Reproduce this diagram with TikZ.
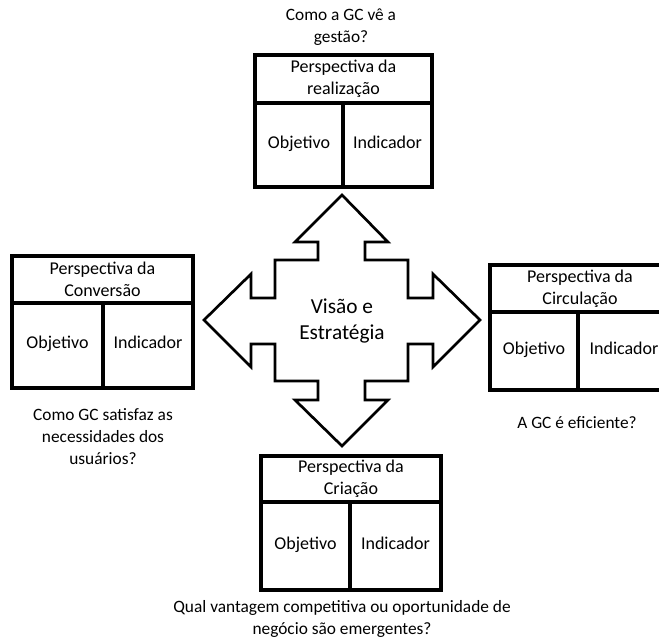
\documentclass[tikz,border=0pt]{standalone}
\usepackage{fontspec}
\setmainfont{Carlito}
\usetikzlibrary{fit}
\newcommand\perspbox[8]{% #1 name, #2 x0, #3 y0, #4 x1, #5 yh, #6 y1, #7 xd, #8 header
  \node[cell, fit={(#2,#3)(#4,#5)}] (#1h) {};
  \node[cell, fit={(#2,#5)(#7,#6)}] (#1o) {};
  \node[cell, fit={(#7,#5)(#4,#6)}] (#1i) {};
  \node[celltext] (#1ht) at (#1h.center) {#8};
  \node[celltext, wordtext] (#1ot) at (#1o.center) {Objetivo};
  \node[celltext, wordtext] (#1it) at (#1i.center) {Indicador};
}
\begin{document}
\begin{tikzpicture}[x=0.75pt,y=-0.75pt,
  cell/.style={draw, line width=2.4pt, inner sep=0pt},
  celltext/.style={align=center, inner sep=0pt, font=\fontsize{13.5}{16.5}\selectfont},
  wordtext/.style={text height=0.7em, text depth=0.25em},
  qtext/.style={align=center, inner sep=0pt, font=\fontsize{13}{16.5}\selectfont},
  ctext/.style={align=center, inner sep=0pt, font=\fontsize{16}{20}\selectfont},
  bigarrow/.style={draw, line width=2pt, line join=miter}]
\useasboundingbox (0,0) rectangle (659,643);
\clip (0,0) rectangle (659,643);

% central four-way arrow
\draw[bigarrow] (342,195) -- (388,242) -- (365,242) -- (365,260) -- (408,260) -- (408,298)
  -- (433,298) -- (433,274) -- (480,320) -- (433,367) -- (433,344) -- (408,344)
  -- (408,381) -- (365,381) -- (365,400) -- (388,400) -- (342,446) -- (295,400)
  -- (318,400) -- (318,381) -- (275,381) -- (275,344) -- (251,344) -- (251,367)
  -- (204,320) -- (251,274) -- (251,298) -- (275,298) -- (275,260) -- (318,260)
  -- (318,242) -- (295,242) -- cycle;
\node[ctext] (vis) at (342,321) {Visão e\\Estratégia};

% boxes
\perspbox{t}{255}{55}{432}{103}{187}{343}{Perspectiva da\\realização}
\perspbox{l}{12}{256}{193}{303}{388}{103}{Perspectiva da\\Conversão}
\perspbox{r}{490}{265}{670}{312}{390}{578}{Perspectiva da\\Circulação}
\perspbox{b}{261}{456}{441}{502}{590}{350}{Perspectiva da\\Criação}

% questions
\node[qtext] (qt) at (341,27) {Como a GC vê a\\gestão?};
\node[qtext] (ql) at (103,437) {Como GC satisfaz as\\necessidades dos\\usuários?};
\node[qtext] (qr) at (577,423) {A GC é eficiente?};
\node[qtext] (qb) at (342,619) {Qual vantagem competitiva ou oportunidade de\\negócio são emergentes?};
\end{tikzpicture}
\end{document}
